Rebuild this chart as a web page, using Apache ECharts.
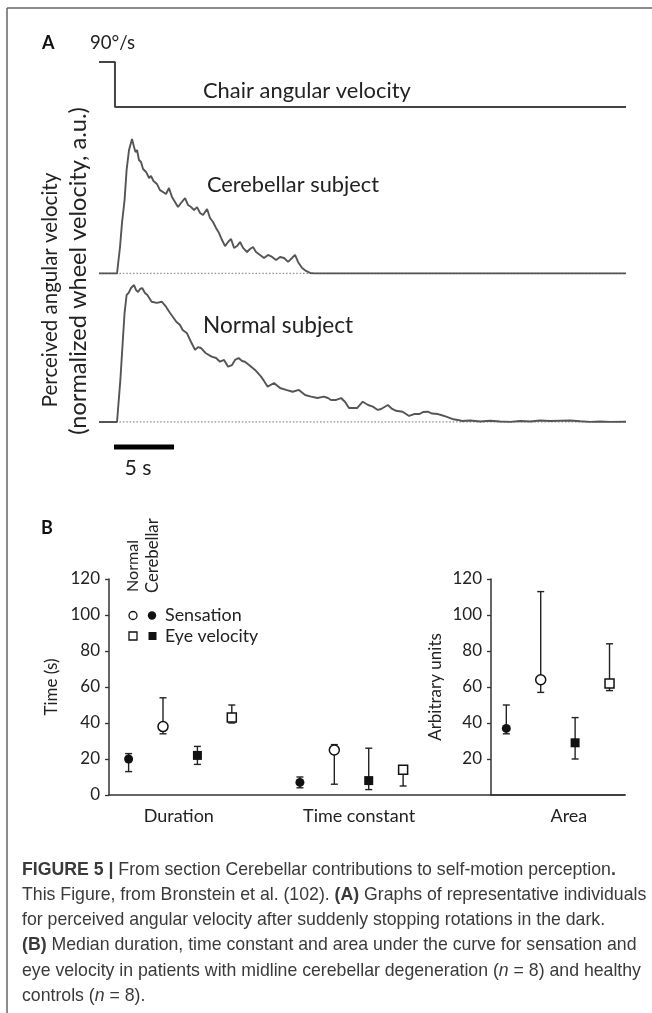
<!DOCTYPE html>
<html>
<head>
<meta charset="utf-8">
<script src="https://cdn.jsdelivr.net/npm/echarts@6/dist/echarts.min.js"></script>
<style>
html,body{margin:0;padding:0;background:#fff;}
#chart{width:652px;height:1013px;}
</style>
</head>
<body>
<div id="chart"></div>
<script>
// ---------------- DATA ----------------
// Panel A: time (s, 0 = chair stop) and perceived velocity (normalized, peak = 100)
const chairTrace = [[-1.5, 90], [-0.17, 90], [-0.17, 0], [42.4, 0]]; // deg/s
const cerebellarTrace = [
  [-1.5,0],[0,0],[0.25,19.7],[0.42,38],[0.63,54.6],[0.8,77],[1.0,91.8],[1.25,100],[1.42,94],[1.54,90.3],
  [1.67,91.8],[1.83,84.4],[2.0,82.9],[2.17,77.7],[2.42,75.5],[2.67,71],[2.83,72.5],[3.04,68.8],[3.33,66.5],
  [3.58,62],[3.83,60.6],[4.08,59.1],[4.33,63.6],[4.58,56.9],[4.83,53.2],[5.08,49.4],[5.33,52.4],[5.67,56.1],
  [5.92,50.9],[6.17,49.4],[6.42,47.2],[6.67,49.4],[6.92,45],[7.17,43.5],[7.5,48],[7.75,41.3],[8.0,38.3],
  [8.25,33.8],[8.5,30.1],[8.75,24.9],[9.0,20.4],[9.25,23.4],[9.5,25.7],[9.75,19],[10.0,20.4],[10.25,23.4],
  [10.5,19],[10.83,16],[11.08,18.2],[11.33,19.7],[11.58,16],[11.92,13.8],[12.25,11.5],[12.58,13.8],[12.92,12.3],
  [13.25,10],[13.58,12.3],[13.92,11.5],[14.25,8.6],[14.58,11.5],[14.83,13.8],[15.08,8.6],[15.42,4.1],[15.75,1.9],
  [16.08,0.4],[16.42,0],[42.4,0]
];
const normalTrace = [
  [-1.5,0],[0,0],[0.28,30.7],[0.46,56.2],[0.63,79.6],[0.8,92.7],[0.97,94.2],[1.17,97.8],[1.42,100],[1.58,96.4],
  [1.75,94.9],[1.92,97.1],[2.1,97.8],[2.33,94.2],[2.53,92.7],[2.88,87.8],[3.32,86.9],[3.73,87.8],[4.08,84.2],
  [4.42,79.6],[4.94,73.2],[5.25,70.8],[5.47,67.2],[5.81,65],[6.16,58.6],[6.5,52.6],[6.75,54.7],[7.0,54],
  [7.37,50.4],[7.88,47.7],[8.25,46.7],[8.58,44],[8.92,45.3],[9.25,40.4],[9.58,41.6],[9.83,45.3],[10.13,46.7],
  [10.42,44.5],[10.65,44],[11.0,41.6],[11.5,38],[12.0,33.1],[12.25,29.9],[12.55,25.8],[13.08,28.5],[13.58,24.8],
  [14.08,23.4],[14.63,22.1],[15.15,23.4],[15.67,19.7],[16.17,18.5],[16.7,17.5],[17.23,18.5],[17.57,17.5],
  [17.83,16.1],[18.25,16.1],[18.67,17.5],[19.0,14.6],[19.33,10.2],[20.0,10.2],[20.47,14.8],[20.92,12.4],
  [21.31,11.2],[21.72,8.8],[22.0,9.5],[22.56,12.4],[22.92,9.5],[23.25,8.2],[23.79,7.5],[24.33,4.4],[24.75,5.8],
  [25.17,5.8],[25.5,7.3],[25.89,7.5],[26.25,6.2],[26.73,5.8],[27.0,5.1],[27.42,3.9],[27.92,2.2],[28.39,1.5],
  [28.75,0.7],[29.42,1.1],[30.25,0.4],[31.08,0.9],[31.92,0.4],[32.75,0.1],[33.58,0.7],[34.42,0.4],[35.25,1.1],
  [36.08,0.7],[36.92,0.9],[37.75,1.1],[38.58,0.6],[39.42,0.1],[40.25,0.4],[41.08,0.1],[42.4,0.2]
];
const scaleBarStart = -0.25;   // s
const scaleBarLength = 5;      // s

// Panel B: groups and medians with ranges
const groups = ['Duration', 'Time constant', 'Area'];
const cerebSensMed = [20, 7, 37];
const cerebSensLo  = [13, 4, 34];
const cerebSensHi  = [23, 10, 50];
const normSensMed  = [38, 25, 64];
const normSensLo   = [34, 6, 57];
const normSensHi   = [54, 28, 113];
const cerebEyeMed  = [22, 8, 29];
const cerebEyeLo   = [17, 3, 20];
const cerebEyeHi   = [27, 26, 43];
const normEyeMed   = [43, 14, 62];
const normEyeLo    = [40, 5, 58];
const normEyeHi    = [50, 16, 84];

// ---------------- LAYOUT ----------------
const FIG = 'Lato, "Open Sans", sans-serif';
const CAP = '"Liberation Sans", Arial, sans-serif';
const CAPSIZE = 17.7;
const ctx = document.createElement('canvas').getContext('2d');
function fit(text, target, weight) {
  ctx.font = (weight || 'normal') + ' 100px Lato';
  const w = ctx.measureText(text).width;
  return w > 0 ? Math.round(1000 * target / w) / 10 : 18;
}
const groupCenter = [2.07, 7.05, 13.05];
const slotOffset = [-1.5, -0.5, 0.5, 1.5];
const rightAxisMin = 11.105;

const seriesDefs = [
  {name:'Cerebellar sensation', med:cerebSensMed, lo:cerebSensLo, hi:cerebSensHi, symbol:'circle', size:9, fill:'#111'},
  {name:'Normal sensation', med:normSensMed, lo:normSensLo, hi:normSensHi, symbol:'circle', size:10, fill:'#fff'},
  {name:'Cerebellar eye velocity', med:cerebEyeMed, lo:cerebEyeLo, hi:cerebEyeHi, symbol:'rect', size:9, fill:'#111'},
  {name:'Normal eye velocity', med:normEyeMed, lo:normEyeLo, hi:normEyeHi, symbol:'rect', size:9, fill:'#fff'}
];

function errRender(params, api) {
  const x = api.value(0), lo = api.value(1), hi = api.value(2);
  const a = api.coord([x, lo]), b = api.coord([x, hi]);
  const w = 3.5, st = {stroke:'#222', lineWidth:1.4};
  return {type:'group', children:[
    {type:'line', shape:{x1:a[0], y1:a[1], x2:b[0], y2:b[1]}, style:st},
    {type:'line', shape:{x1:a[0]-w, y1:a[1], x2:a[0]+w, y2:a[1]}, style:st},
    {type:'line', shape:{x1:b[0]-w, y1:b[1], x2:b[0]+w, y2:b[1]}, style:st}
  ]};
}

const series = [];
// Panel A
series.push({type:'line', xAxisIndex:1, yAxisIndex:1, data:[[-1.5,0],[42.4,0]], showSymbol:false, silent:true,
  lineStyle:{color:'#999', width:1.6, type:[1.6,1.8]}, z:1});
series.push({type:'line', xAxisIndex:2, yAxisIndex:2, data:[[-1.5,0],[42.4,0]], showSymbol:false, silent:true,
  lineStyle:{color:'#999', width:1.6, type:[1.6,1.8]}, z:1});
series.push({type:'line', name:'Chair angular velocity', xAxisIndex:0, yAxisIndex:0, data:chairTrace, showSymbol:false,
  lineStyle:{color:'#444', width:2}, z:2});
series.push({type:'line', name:'Cerebellar subject', xAxisIndex:1, yAxisIndex:1, data:cerebellarTrace, showSymbol:false,
  lineStyle:{color:'#555', width:1.9}, z:2});
series.push({type:'line', name:'Normal subject', xAxisIndex:2, yAxisIndex:2, data:normalTrace, showSymbol:false,
  lineStyle:{color:'#555', width:1.9}, z:2});
series.push({type:'line', name:'5 s', xAxisIndex:3, yAxisIndex:3,
  data:[[scaleBarStart,0],[scaleBarStart+scaleBarLength,0]], showSymbol:false, clip:false,
  lineStyle:{color:'#000', width:5, cap:'butt'}, z:2});

// Panel B
seriesDefs.forEach((s, si) => {
  [[0,1],[2]].forEach((gIdx, part) => {
    const axis = part === 0 ? 4 : 5;
    const errData = gIdx.map(g => [groupCenter[g] + slotOffset[si], s.lo[g], s.hi[g]]);
    const ptData = gIdx.map(g => [groupCenter[g] + slotOffset[si], s.med[g]]);
    series.push({type:'custom', name:s.name, xAxisIndex:axis, yAxisIndex:axis, renderItem:errRender,
      data:errData, encode:{x:0, y:[1,2]}, z:3, clip:false});
    series.push({type:'scatter', name:s.name, xAxisIndex:axis, yAxisIndex:axis, data:ptData,
      symbol:s.symbol, symbolSize:s.size,
      itemStyle:{color:s.fill, borderColor:'#111', borderWidth:s.fill === '#fff' ? 1.5 : 0, opacity:1}, z:4});
  });
});

const hiddenX = {type:'value', min:-1.5, max:42.4, show:false};
const axisLineB = {show:true, lineStyle:{color:'#333', width:1.5}};
const yAxisB = (name) => ({
  type:'value', min:0, max:120, interval:20, name:name, nameLocation:'middle', nameGap:47,
  nameTextStyle:{fontFamily:FIG, fontSize:17, color:'#222'},
  axisLine:axisLineB, axisTick:{show:true, inside:false, length:4, lineStyle:{color:'#333', width:1.3}},
  axisLabel:{fontFamily:FIG, fontSize:17, color:'#222', margin:9},
  splitLine:{show:false}
});

const capLines = [
  '{b|FIGURE 5 |} From section Cerebellar contributions to self-motion perception{b|.}',
  'This Figure, from Bronstein et al. ({g|102}). {b|(A)} Graphs of representative individuals',
  'for perceived angular velocity after suddenly stopping rotations in the dark.',
  '{b|(B)} Median duration, time constant and area under the curve for sensation and',
  'eye velocity in patients with midline cerebellar degeneration ({i|n} = 8) and healthy',
  'controls ({i|n} = 8).'
];
const capRich = {
  b:{fontFamily:CAP, fontSize:CAPSIZE, fontWeight:'bold', color:'#111'},
  g:{fontFamily:CAP, fontSize:CAPSIZE, color:'#8a8a8a'},
  i:{fontFamily:CAP, fontSize:CAPSIZE, fontStyle:'italic', color:'#3a3a3a'}
};

const graphic = [
  {type:'line', shape:{x1:7, y1:8, x2:652, y2:8}, style:{stroke:'#666', lineWidth:1.5}},
  {type:'line', shape:{x1:7, y1:8, x2:7, y2:1013}, style:{stroke:'#666', lineWidth:1.5}},
  {type:'text', x:42, y:43, style:{text:'A', font:'bold 18px ' + FIG, fill:'#111', align:'left', verticalAlign:'middle'}},
  {type:'text', x:90, y:43, style:{text:'90°/s', font:fit('90°/s',45) + 'px ' + FIG, fill:'#222', align:'left', verticalAlign:'middle'}},
  {type:'text', x:203, y:91, style:{text:'Chair angular velocity', font:fit('Chair angular velocity',208) + 'px ' + FIG, fill:'#222', align:'left', verticalAlign:'middle'}},
  {type:'text', x:207, y:185, style:{text:'Cerebellar subject', font:fit('Cerebellar subject',172) + 'px ' + FIG, fill:'#222', align:'left', verticalAlign:'middle'}},
  {type:'text', x:203, y:326, style:{text:'Normal subject', font:fit('Normal subject',150) + 'px ' + FIG, fill:'#222', align:'left', verticalAlign:'middle'}},
  {type:'text', x:50, y:290, rotation:Math.PI/2, style:{text:'Perceived angular velocity', font:fit('Perceived angular velocity',234) + 'px ' + FIG, fill:'#222', align:'center', verticalAlign:'middle'}},
  {type:'text', x:78, y:271, rotation:Math.PI/2, style:{text:'(normalized wheel velocity, a.u.)', font:fit('(normalized wheel velocity, a.u.)',328) + 'px ' + FIG, fill:'#222', align:'center', verticalAlign:'middle'}},
  {type:'text', x:138, y:468, style:{text:'5 s', font:fit('5 s',27) + 'px ' + FIG, fill:'#222', align:'center', verticalAlign:'middle'}},
  {type:'text', x:41, y:528, style:{text:'B', font:'bold 18px ' + FIG, fill:'#111', align:'left', verticalAlign:'middle'}},
  {type:'text', x:133, y:592, rotation:Math.PI/2, style:{text:'Normal', font:fit('Normal',52) + 'px ' + FIG, fill:'#222', align:'left', verticalAlign:'middle'}},
  {type:'text', x:153, y:593, rotation:Math.PI/2, style:{text:'Cerebellar', font:fit('Cerebellar',75) + 'px ' + FIG, fill:'#222', align:'left', verticalAlign:'middle'}},
  {type:'circle', shape:{cx:133, cy:615.5, r:4}, style:{fill:'#fff', stroke:'#111', lineWidth:1.3}},
  {type:'circle', shape:{cx:152, cy:615.5, r:4.2}, style:{fill:'#111'}},
  {type:'text', x:165, y:615.5, style:{text:'Sensation', font:fit('Sensation',77) + 'px ' + FIG, fill:'#222', align:'left', verticalAlign:'middle'}},
  {type:'rect', shape:{x:129, y:632, width:8, height:8}, style:{fill:'#fff', stroke:'#111', lineWidth:1.3}},
  {type:'rect', shape:{x:148.5, y:632, width:8, height:8}, style:{fill:'#111'}},
  {type:'text', x:165, y:636.5, style:{text:'Eye velocity', font:fit('Eye velocity',93) + 'px ' + FIG, fill:'#222', align:'left', verticalAlign:'middle'}}
];
capLines.forEach((t, i) => {
  graphic.push({type:'text', x:22, y:870 + 25.2 * i, style:{text:t, rich:capRich, font:CAPSIZE + 'px ' + CAP,
    fill:'#3a3a3a', align:'left', verticalAlign:'middle'}});
});

const option = {
  animation:false,
  backgroundColor:'#fff',
  grid:[
    {left:99, top:62, width:527, height:45},
    {left:99, top:139, width:527, height:134.5},
    {left:99, top:285, width:527, height:137},
    {left:99, top:445, width:527, height:2},
    {left:109, top:579, width:516, height:216},
    {left:491, top:579, width:134, height:216}
  ],
  xAxis:[
    Object.assign({gridIndex:0}, hiddenX),
    Object.assign({gridIndex:1}, hiddenX),
    Object.assign({gridIndex:2}, hiddenX),
    Object.assign({gridIndex:3}, hiddenX),
    {gridIndex:4, type:'value', min:0, max:15, axisLine:axisLineB, axisTick:{show:false}, splitLine:{show:false},
      axisLabel:{customValues:[2.03, 7.27], fontFamily:FIG, fontSize:18, color:'#222', margin:12,
        formatter:(v) => v < 5 ? groups[0] : groups[1]}},
    {gridIndex:5, type:'value', min:rightAxisMin, max:15, axisLine:axisLineB, axisTick:{show:false}, splitLine:{show:false},
      axisLabel:{customValues:[13.37], fontFamily:FIG, fontSize:18, color:'#222', margin:12,
        formatter:() => groups[2]}}
  ],
  yAxis:[
    {gridIndex:0, type:'value', min:0, max:90, show:false},
    {gridIndex:1, type:'value', min:0, max:100, show:false},
    {gridIndex:2, type:'value', min:0, max:100, show:false},
    {gridIndex:3, type:'value', min:0, max:1, show:false},
    Object.assign({gridIndex:4}, yAxisB('Time (s)')),
    Object.assign({gridIndex:5}, yAxisB('Arbitrary units'), {axisLabel:{fontFamily:FIG, fontSize:17, color:'#222', margin:9, showMinLabel:false}})
  ],
  graphic:graphic,
  series:series
};

const chart = echarts.init(document.getElementById('chart'), null, {renderer:'canvas', width:652, height:1013});
chart.setOption(option);
</script>
</body>
</html>
